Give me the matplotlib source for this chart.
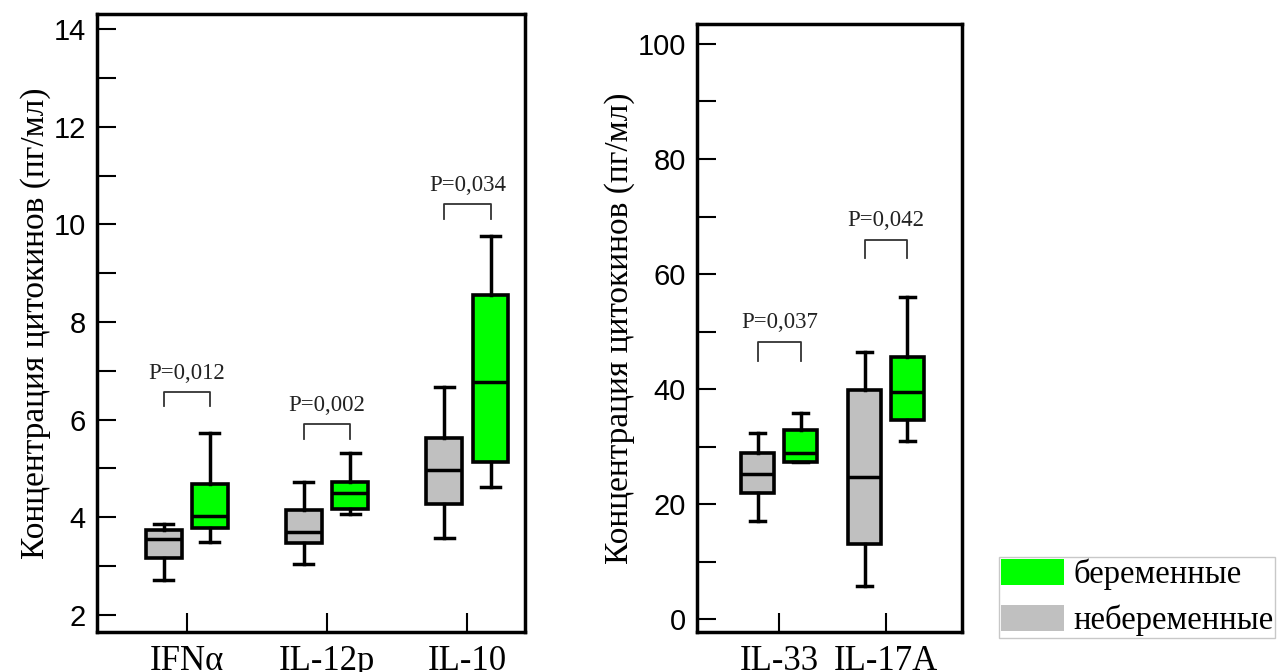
import matplotlib
matplotlib.use("Agg")
import matplotlib.pyplot as plt
from matplotlib.patches import Patch

# ---- data ----
left_cats = ["IFNα", "IL-12p", "IL-10"]
# non-pregnant (gray): low whisker, Q1, median, Q3, high whisker
left_np_low = [2.71, 3.04, 3.57]
left_np_q1 = [3.17, 3.48, 4.28]
left_np_med = [3.56, 3.70, 4.97]
left_np_q3 = [3.74, 4.15, 5.63]
left_np_high = [3.87, 4.72, 6.66]
# pregnant (green)
left_p_low = [3.50, 4.06, 4.63]
left_p_q1 = [3.79, 4.18, 5.14]
left_p_med = [4.02, 4.50, 6.77]
left_p_q3 = [4.69, 4.73, 8.56]
left_p_high = [5.73, 5.32, 9.77]
left_pvals = ["P=0,012", "P=0,002", "P=0,034"]
left_bracket_y = [6.57, 5.91, 10.42]

right_cats = ["IL-33", "IL-17A"]
right_np_low = [17.1, 5.7]
right_np_q1 = [22.0, 13.1]
right_np_med = [25.2, 24.7]
right_np_q3 = [28.8, 39.9]
right_np_high = [32.4, 46.5]
right_p_low = [27.3, 31.0]
right_p_q1 = [27.3, 34.7]
right_p_med = [28.8, 39.5]
right_p_q3 = [32.9, 45.5]
right_p_high = [35.8, 56.0]
right_pvals = ["P=0,037", "P=0,042"]
right_bracket_y = [48.2, 66.0]

legend_labels = ["беременные", "небеременные"]

GREEN = "#00FF00"
GRAY = "#C0C0C0"
SERIF = ["Liberation Serif", "DejaVu Serif"]
SANS = ["Liberation Sans", "DejaVu Sans"]

def stats(low, q1, med, q3, high):
    return [dict(whislo=a, q1=b, med=c, q3=d, whishi=e, fliers=[])
            for a, b, c, d, e in zip(low, q1, med, q3, high)]

fig = plt.figure(figsize=(12.84, 6.72), dpi=100)

def draw_panel(ax, cats, np_stats, p_stats, off, width, capw, pvals, by,
               leg, gap, ylim, xlim, major, minor):
    n = len(cats)
    pos = list(range(n))
    common = dict(widths=width, patch_artist=True, showfliers=False,
                  capwidths=capw,
                  medianprops=dict(color="black", linewidth=2.5),
                  whiskerprops=dict(color="black", linewidth=2.5),
                  capprops=dict(color="black", linewidth=2.5))
    ax.bxp(np_stats, positions=[p - off for p in pos],
           boxprops=dict(facecolor=GRAY, edgecolor="black", linewidth=2.6),
           **common)
    ax.bxp(p_stats, positions=[p + off for p in pos],
           boxprops=dict(facecolor=GREEN, edgecolor="black", linewidth=2.6),
           **common)
    for i in range(n):
        x0, x1 = i - off, i + off
        y = by[i]
        ax.plot([x0, x0, x1, x1], [y - leg, y, y, y - leg], color="#333333",
                linewidth=1.3)
        ax.text(i, y + gap, pvals[i], ha="center", va="center",
                fontsize=16.5, family=SERIF, color="#222222")
    ax.set_xlim(*xlim)
    ax.set_ylim(*ylim)
    ax.set_xticks(pos)
    ax.set_xticklabels(cats, fontsize=25, family=SERIF)
    ax.set_yticks(major)
    ax.set_yticks(minor, minor=True)
    for lab in ax.get_yticklabels():
        lab.set_family(SANS)
        lab.set_fontsize(21)
    ax.tick_params(axis="both", which="both", direction="in", length=14,
                   width=1.5)
    ax.tick_params(axis="x", pad=9)
    ax.tick_params(axis="y", pad=8)
    for s in ax.spines.values():
        s.set_linewidth(2.5)
    ax.set_ylabel("Концентрация цитокинов (пг/мл)", family=SERIF, fontsize=24,
                  labelpad=2)

ax1 = fig.add_axes([0.0755, 0.0595, 0.3333, 0.919])
draw_panel(ax1, left_cats,
           stats(left_np_low, left_np_q1, left_np_med, left_np_q3, left_np_high),
           stats(left_p_low, left_p_q1, left_p_med, left_p_q3, left_p_high),
           0.165, 0.256, 0.136, left_pvals, left_bracket_y, 0.30, 0.38,
           (1.65, 14.3), (-0.64, 2.41),
           [2, 4, 6, 8, 10, 12, 14], [3, 5, 7, 9, 11, 13])

ax2 = fig.add_axes([0.5428, 0.0595, 0.2064, 0.905])
draw_panel(ax2, right_cats,
           stats(right_np_low, right_np_q1, right_np_med, right_np_q3, right_np_high),
           stats(right_p_low, right_p_q1, right_p_med, right_p_q3, right_p_high),
           0.2, 0.31, 0.14, right_pvals, right_bracket_y, 3.3, 3.3,
           (-2.25, 103.5), (-0.77, 1.71),
           [0, 20, 40, 60, 80, 100], [10, 30, 50, 70, 90])

handles = [Patch(facecolor=GREEN, edgecolor="none"),
           Patch(facecolor=GRAY, edgecolor="none")]
fig.legend(handles, legend_labels, loc="lower left",
           bbox_to_anchor=(0.778, 0.0506), borderaxespad=0,
           prop=dict(family=SERIF, size=23.5), handlelength=1.93,
           handleheight=0.85, handletextpad=0.3, labelspacing=0.45,
           borderpad=0.05, frameon=True, fancybox=False,
           edgecolor="#BBBBBB")

fig.savefig("out.png", dpi=100)
